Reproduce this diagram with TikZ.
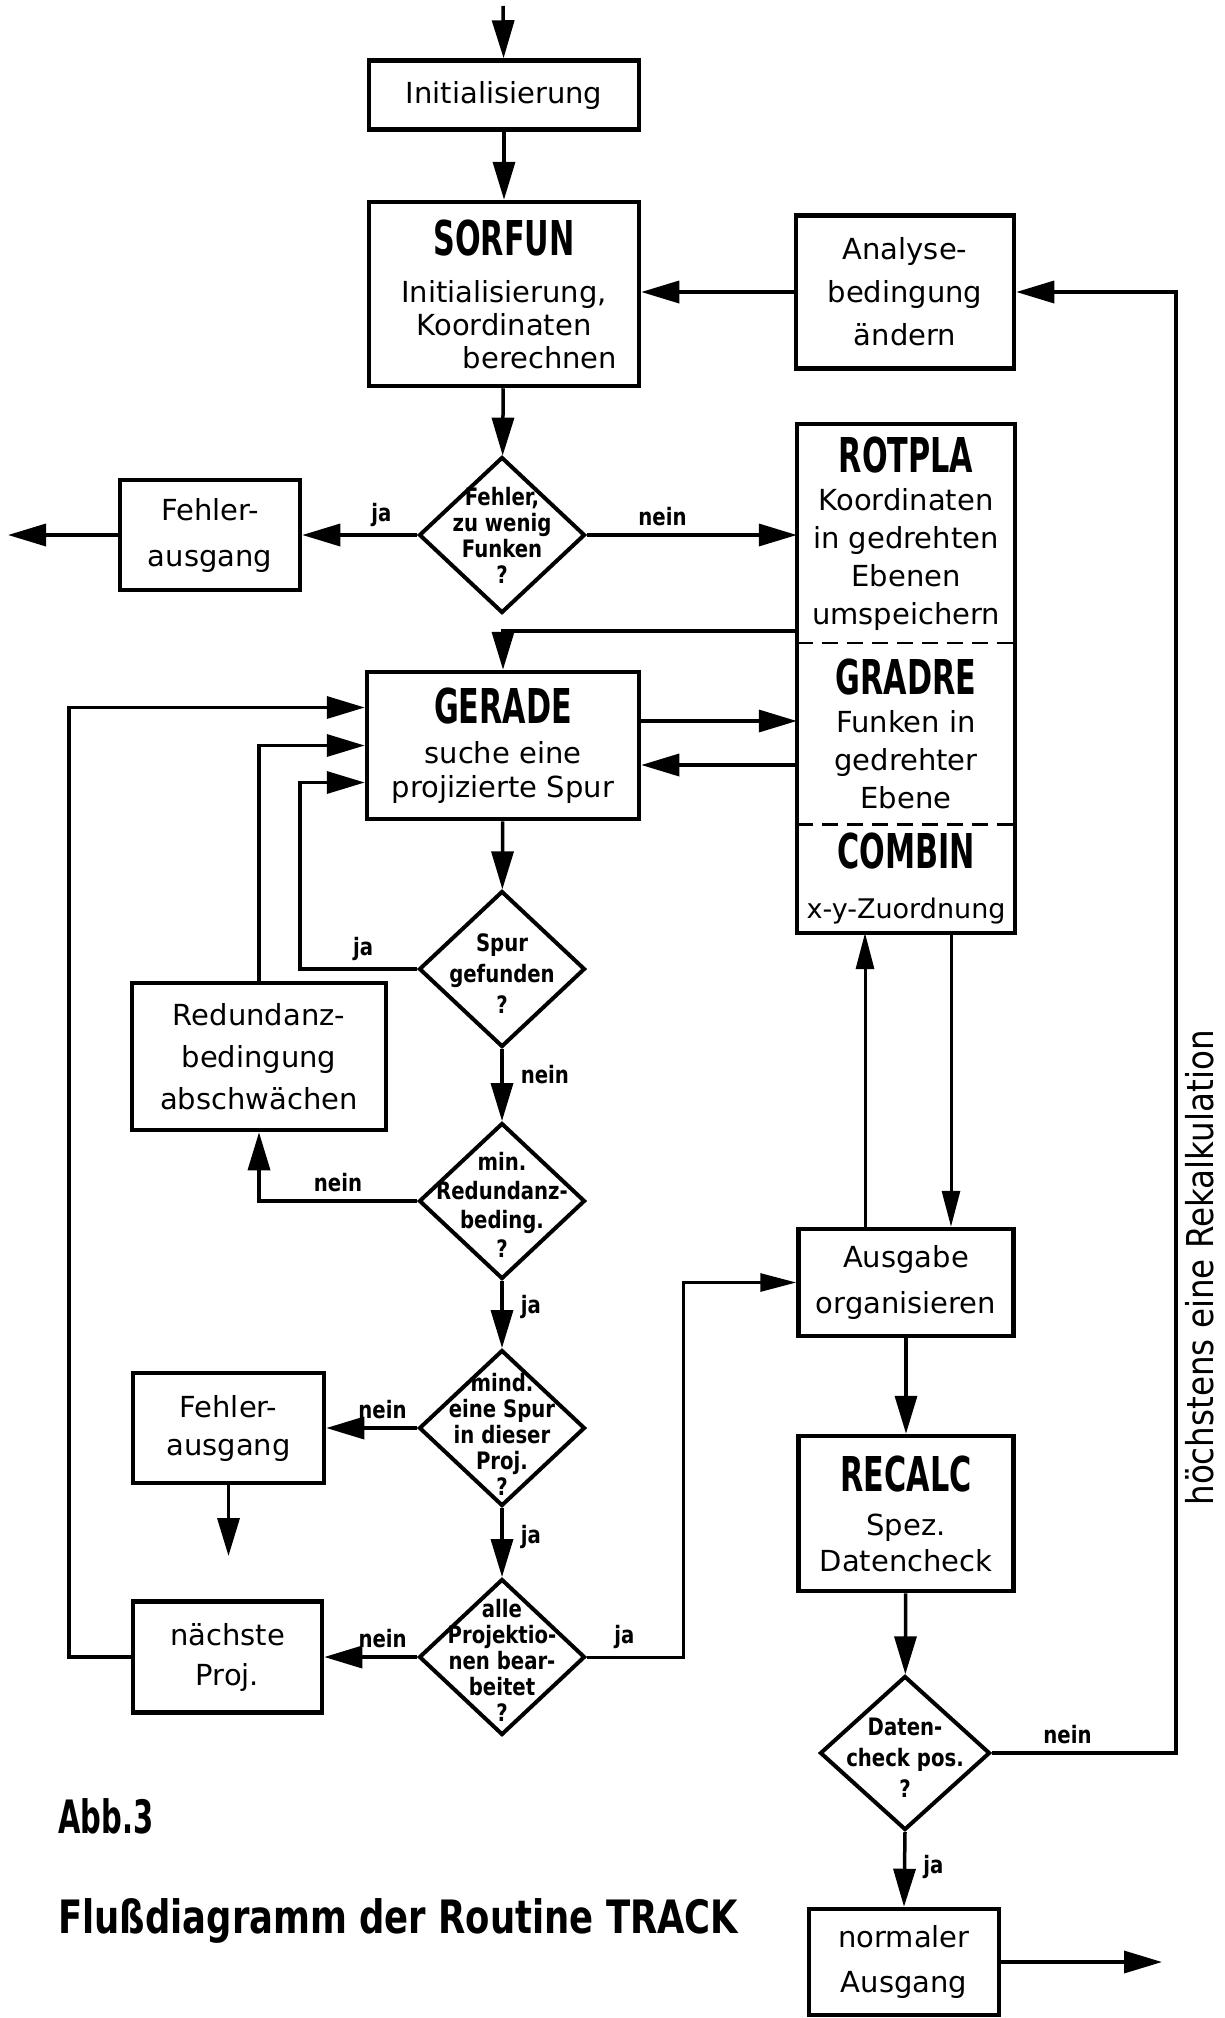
\documentclass[tikz,border=0pt]{standalone}
\usepackage{fontspec}
\setmainfont{DejaVu Sans}
\newfontfamily\titlefont{DejaVu Sans}[FakeStretch=0.63]
\newfontfamily\condfont{DejaVu Sans}[FakeStretch=0.82]
\newfontfamily\sidefont{DejaVu Sans}[FakeStretch=0.88]
\newfontfamily\capfont{DejaVu Sans}[FakeStretch=0.77]
\usetikzlibrary{arrows.meta,shapes.geometric,positioning}
\newcommand{\prog}[1]{{\titlefont\bfseries\fontsize{48}{50}\selectfont #1}}
\tikzset{
  box/.style={draw, rectangle, line width=4.5pt, inner sep=0pt, align=center, font=\fontsize{29}{36}\selectfont},
  part/.style={rectangle, inner sep=0pt, minimum width=218pt, align=center, font=\fontsize{29}{38}\selectfont},
  dia/.style={draw, diamond, line width=4pt, inner sep=0pt, minimum width=166pt, minimum height=156pt},
  diatext/.style={align=center, inner sep=0pt, font=\condfont\bfseries\fontsize{24}{26}\selectfont},
  lbl/.style={inner sep=7pt, font=\condfont\bfseries\fontsize{24}{24}\selectfont},
  vlbl/.style={lbl, right, xshift=10pt},
  flow/.style={line width=3.5pt, -{Triangle[length=38pt,width=22pt]}},
  thinflow/.style={line width=3pt, -{Triangle[length=36pt,width=18pt]}},
}
\begin{document}
\begin{tikzpicture}[x=1pt, y=-1pt]
\path[use as bounding box, fill=white] (0,0) rectangle (1225,2018);

\node[box, minimum width=270pt, minimum height=69pt] (init) at (504,95) {Initialisierung};
\node[box, minimum width=270pt, minimum height=184pt, font=\fontsize{29}{33}\selectfont] (sorfun) at (504,294)
  {\prog{SORFUN}\\[14pt]Initialisierung,\\Koordinaten\hspace*{38pt}\\\hspace*{72pt}berechnen};
\node[dia] (d1) at (502,535) {};
\node[diatext] (d1t) at (502,535) {Fehler,\\zu wenig\\Funken\\?};
\node[box, minimum width=180pt, minimum height=110pt, font=\fontsize{29}{46}\selectfont] (fehler1) at (210,535) {Fehler-\\ausgang};
\node[box, minimum width=218pt, minimum height=153pt, font=\fontsize{29}{43}\selectfont] (analyse) at (905,292) {Analyse-\\bedingung\\ändern};

\node[part, minimum height=219pt] (rotpla) at (906,533.5) {\prog{ROTPLA}\\Koordinaten\\in gedrehten\\Ebenen\\umspeichern};
\node[part, minimum height=181pt, below=0pt of rotpla] (gradre) {\prog{GRADRE}\\Funken in\\gedrehter\\Ebene};
\node[part, minimum height=108pt, below=0pt of gradre] (combin) {\prog{COMBIN}\\[12pt]{\fontsize{27}{30}\selectfont x-y-Zuordnung}};
\draw[line width=4.5pt] (rotpla.north west) rectangle (combin.south east);
\draw[line width=2.5pt, dash pattern=on 16pt off 9pt] (rotpla.south west) -- (rotpla.south east);
\draw[line width=2.5pt, dash pattern=on 16pt off 9pt] (gradre.south west) -- (gradre.south east);

\node[box, minimum width=272pt, minimum height=147pt, font=\fontsize{29}{34}\selectfont] (gerade) at (503,745.5)
  {\prog{GERADE}\\[6pt]suche eine\\projizierte Spur};
\node[dia] (d2) at (502,969) {};
\node[diatext, font=\condfont\bfseries\fontsize{24}{31}\selectfont] (d2t) at (502,974) {Spur\\gefunden\\?};
\node[box, minimum width=254pt, minimum height=147pt, font=\fontsize{29}{42}\selectfont] (redund) at (259,1056.5) {Redundanz-\\bedingung\\abschwächen};
\node[dia] (d3) at (502,1201) {};
\node[diatext, font=\condfont\bfseries\fontsize{24}{29}\selectfont] (d3t) at (502,1205) {min.\\Redundanz-\\beding.\\?};
\node[dia] (d4) at (502,1428) {};
\node[diatext] (d4t) at (502,1434) {mind.\\eine Spur\\in dieser\\Proj.\\?};
\node[box, minimum width=191pt, minimum height=110pt, font=\fontsize{29}{38}\selectfont] (fehler2) at (228.5,1428) {Fehler-\\ausgang};
\node[dia] (d5) at (502,1657) {};
\node[diatext] (d5t) at (502,1660) {alle\\Projektio-\\nen bear-\\beitet\\?};
\node[box, minimum width=189pt, minimum height=111pt, font=\fontsize{29}{40}\selectfont] (naechste) at (227.5,1657) {nächste\\Proj.};

\node[box, minimum width=215pt, minimum height=107pt, font=\fontsize{29}{46}\selectfont] (ausgabe) at (906,1282.5) {Ausgabe\\organisieren};
\node[box, minimum width=215pt, minimum height=155pt, font=\fontsize{29}{36}\selectfont] (recalc) at (906,1513.5) {\prog{RECALC}\\[8pt]Spez.\\Datencheck};
\node[dia, minimum width=170pt, minimum height=154pt] (d6) at (905,1753) {};
\node[diatext, font=\condfont\bfseries\fontsize{24}{31}\selectfont] (d6t) at (905,1758) {Daten-\\check pos.\\?};
\node[box, minimum width=190pt, minimum height=106pt, font=\fontsize{29}{45}\selectfont] (normal) at (904,1962) {normaler\\Ausgang};

\node[rotate=90, inner sep=0pt, font=\sidefont\fontsize{37}{37}\selectfont] (rekalk) at (1200,1268) {höchstens eine Rekalkulation};
\node[anchor=west, inner sep=0pt, font=\titlefont\bfseries\fontsize{46}{46}\selectfont] (abb) at (58,1816) {Abb.3};
\node[anchor=west, inner sep=0pt, font=\capfont\bfseries\fontsize{46}{46}\selectfont] (caption) at (58,1921) {Flußdiagramm der Routine TRACK};

\coordinate (entry) at (503,6);
\coordinate (exitA) at (8,535);
\coordinate (exitB) at (228.5,1556);
\coordinate (exitC) at (1162,1962);
\coordinate (lx) at (69,0);
\coordinate (jx) at (300,0);
\coordinate (ox) at (683,0);
\coordinate (rk) at (1176,0);
\coordinate (ua) at (865,0);
\coordinate (da) at (951,0);
\coordinate (ry) at (0,631);
\coordinate (ga) at ([yshift=24.5pt]gerade.east);
\coordinate (gb) at ([yshift=-19.5pt]gerade.east);

\draw[flow] (entry) -- (init);
\draw[flow] (init) -- (sorfun);
\draw[flow] (sorfun) -- (d1);
\draw[flow] (d1.west) -- node[lbl,above,pos=.31]{ja} (d1.west -| fehler1.east);
\draw[flow] (fehler1.west) -- (exitA);
\draw[flow] (d1.east) -- node[lbl,above,pos=.36]{nein} (d1.east -| rotpla.west);
\draw[flow] (analyse.west) -- (analyse.west -| sorfun.east);
\draw[flow] (rotpla.west |- ry) -| (gerade.north);
\draw[flow] (ga) -- (ga -| gradre.west);
\draw[flow] (gb -| gradre.west) -- (gb);
\draw[flow] (gerade) -- (d2);
\draw[flow] (d2.west) -- node[lbl,above,pos=.46]{ja} (d2.west -| jx) |- ([yshift=-37pt]gerade.west);
\draw[flow] (redund.north) |- (gerade.west);
\draw[flow] (naechste.west) -- (naechste.west -| lx) |- ([yshift=38pt]gerade.west);
\draw[flow] (d2.south) -- node[vlbl,pos=.35]{nein} (d3.north);
\draw[flow] (d3.west) -- node[lbl,above,pos=.5]{nein} (d3.west -| redund.south) -- (redund.south);
\draw[flow] (d3.south) -- node[vlbl,pos=.38]{ja} (d4.north);
\draw[flow] (d4.west) -- node[lbl,above,pos=.38]{nein} (d4.west -| fehler2.east);
\draw[flow] (fehler2.south) -- (exitB);
\draw[flow] (d4.south) -- node[vlbl,pos=.42]{ja} (d5.north);
\draw[flow] (d5.west) -- node[lbl,above,pos=.37]{nein} (d5.west -| naechste.east);
\draw[thinflow] (d5.east) -- node[lbl,above,pos=.39]{ja} (d5.east -| ox) |- (ausgabe.west);
\draw[thinflow] (ausgabe.north -| ua) -- (combin.south -| ua);
\draw[thinflow] (combin.south -| da) -- (ausgabe.north -| da);
\draw[flow] (ausgabe) -- (recalc);
\draw[flow] (recalc) -- (d6);
\draw[flow] (d6.east) -- node[lbl,above,pos=.41]{nein} (d6.east -| rk) |- (analyse.east);
\draw[flow] (d6.south) -- node[vlbl,pos=.47]{ja} (normal.north);
\draw[flow] (normal.east) -- (exitC);

\end{tikzpicture}
\end{document}
